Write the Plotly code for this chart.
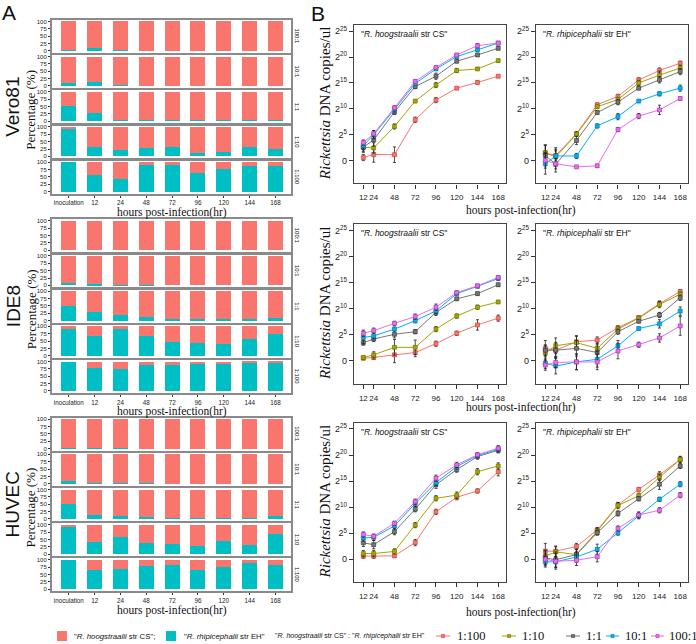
import plotly.graph_objects as go

W, H = 696, 644
SANS = "Liberation Sans, Arial, sans-serif"
SERIF = "Liberation Serif, Times New Roman, serif"

# ---------------- Panel A data (% of "R. rhipicephalii str EH") ----------------
categories = ["inoculation", "12", "24", "48", "72", "96", "120", "144", "168"]
ratios_A = ["100:1", "10:1", "1:1", "1:10", "1:100"]
cells = ["Vero81", "IDE8", "HUVEC"]

vero81_100_1 = [2, 8, 2, 0, 0, 0, 0, 0, 0]
vero81_10_1 = [10, 13, 5, 1, 1, 1, 1, 1, 1]
vero81_1_1 = [50, 28, 5, 3, 4, 4, 3, 3, 4]
vero81_1_10 = [92, 33, 20, 30, 32, 12, 16, 31, 26]
vero81_1_100 = [100, 58, 43, 94, 90, 64, 77, 86, 86]

ide8_100_1 = [1, 1, 2, 0, 0, 0, 0, 0, 0]
ide8_10_1 = [8, 4, 2, 1, 0, 0, 0, 0, 0]
ide8_1_1 = [50, 30, 19, 12, 5, 5, 4, 4, 10]
ide8_1_10 = [92, 66, 94, 68, 48, 45, 40, 58, 74]
ide8_1_100 = [100, 78, 74, 88, 87, 90, 90, 96, 96]

huvec_100_1 = [1, 2, 3, 0, 0, 0, 0, 0, 0]
huvec_10_1 = [9, 4, 3, 2, 0, 0, 0, 0, 0]
huvec_1_1 = [50, 12, 10, 5, 4, 3, 3, 4, 11]
huvec_1_10 = [92, 40, 58, 38, 35, 28, 45, 31, 70]
huvec_1_100 = [100, 67, 70, 78, 84, 67, 75, 90, 82]

groupA = [
    [vero81_100_1, vero81_10_1, vero81_1_1, vero81_1_10, vero81_1_100],
    [ide8_100_1, ide8_10_1, ide8_1_1, ide8_1_10, ide8_1_100],
    [huvec_100_1, huvec_10_1, huvec_1_1, huvec_1_10, huvec_1_100],
]

# ---------------- Panel B data (log2 copies/ul) ----------------
hours = [12, 24, 48, 72, 96, 120, 144, 168]
ratios_B = ["1:100", "1:10", "1:1", "10:1", "100:1"]
y_tickvals = [0, 5, 10, 15, 20, 25]
y_ticktext = ["0", "2<sup>5</sup>", "2<sup>10</sup>", "2<sup>15</sup>", "2<sup>20</sup>", "2<sup>25</sup>"]

# Vero81 - CS
vero_cs_1_100 = [0.6, 1.2, 1.15, 7.9, 11.7, 14.0, 15.1, 16.3]
vero_cs_1_10 = [2.6, 2.45, 6.6, 11.5, 14.6, 17.4, 17.7, 19.3]
vero_cs_1_1 = [2.6, 4.0, 9.4, 14.3, 16.3, 19.2, 20.4, 21.7]
vero_cs_10_1 = [2.9, 5.0, 9.9, 14.9, 17.7, 20.1, 21.4, 22.7]
vero_cs_100_1 = [3.5, 5.2, 10.2, 15.3, 18.0, 20.4, 22.2, 22.7]
# Vero81 - EH
vero_eh_1_100 = [1.5, 1.0, 5.2, 10.8, 12.4, 15.6, 17.4, 18.8]
vero_eh_1_10 = [1.5, 0.7, 5.1, 10.4, 11.8, 15.0, 16.5, 17.9]
vero_eh_1_1 = [1.0, -0.7, 3.9, 9.3, 11.3, 14.0, 15.6, 17.2]
vero_eh_10_1 = [-0.6, 0.9, 0.9, 6.7, 8.5, 11.5, 12.9, 14.0]
vero_eh_100_1 = [0.05, -0.6, -1.2, -1.0, 6.0, 8.6, 9.8, 12.0]
# IDE8 - CS
ide8_cs_1_100 = [0.5, 0.65, 1.15, 1.6, 3.3, 5.3, 6.9, 8.2]
ide8_cs_1_10 = [0.65, 1.15, 2.6, 2.6, 6.1, 8.6, 10.3, 11.3]
ide8_cs_1_1 = [3.5, 4.2, 5.1, 5.6, 9.3, 11.9, 12.9, 14.6]
ide8_cs_10_1 = [4.5, 4.8, 6.1, 7.7, 9.6, 12.9, 14.3, 15.8]
ide8_cs_100_1 = [5.3, 5.8, 7.2, 8.5, 10.3, 13.1, 14.4, 16.0]
# IDE8 - EH
ide8_eh_1_100 = [2.4, 2.05, 3.65, 4.0, 6.35, 8.3, 11.0, 13.3]
ide8_eh_1_10 = [1.5, 2.9, 3.5, 2.4, 6.1, 8.2, 10.8, 12.8]
ide8_eh_1_1 = [2.05, 2.05, 2.4, 1.6, 5.6, 7.6, 8.8, 12.1]
ide8_eh_10_1 = [-0.45, -1.0, -0.2, 0.3, 2.9, 6.2, 7.1, 9.55]
ide8_eh_100_1 = [-0.8, -0.3, -0.2, -0.2, 1.9, 3.1, 4.4, 6.7]
# HUVEC - CS
huvec_cs_1_100 = [0.6, 0.6, 0.65, 3.2, 9.1, 11.9, 13.1, 16.8]
huvec_cs_1_10 = [1.1, 1.1, 1.5, 6.55, 11.7, 12.3, 16.8, 17.9]
huvec_cs_1_1 = [3.15, 2.8, 5.3, 9.6, 14.3, 17.2, 19.7, 20.9]
huvec_cs_10_1 = [4.1, 4.2, 6.4, 10.7, 14.7, 17.8, 19.9, 21.1]
huvec_cs_100_1 = [4.75, 4.4, 6.9, 11.05, 15.55, 18.1, 20.05, 21.3]
# HUVEC - EH
huvec_eh_1_100 = [1.55, 1.55, 2.45, 5.6, 10.4, 13.4, 16.2, 19.15]
huvec_eh_1_10 = [0.6, 1.4, 0.9, 5.4, 10.3, 12.2, 15.7, 19.15]
huvec_eh_1_1 = [0.25, -0.1, 0.9, 5.1, 8.8, 11.6, 14.4, 17.9]
huvec_eh_10_1 = [-0.5, -0.5, 0.45, 1.9, 5.1, 8.35, 11.5, 14.4]
huvec_eh_100_1 = [0.0, -0.4, -0.2, 0.5, 5.9, 8.5, 9.4, 12.3]

# error bars (log2 units)
vero_cs_err = [[0.6, 1.5, 1.5, 0.5, 0.5, 0.2, 0.3, 0.2], [0.8, 1.0, 0.5, 0.3, 0.5, 0.4, 0.3, 0.3],
               [1.0, 1.2, 0.5, 0.4, 0.6, 0.3, 0.3, 0.3], [0.8, 0.8, 0.5, 0.4, 0.3, 0.3, 0.3, 0.3],
               [0.5, 0.6, 0.4, 0.3, 0.3, 0.3, 0.4, 0.2]]
vero_eh_err = [[1.5, 1.5, 0.4, 0.3, 0.4, 0.4, 0.5, 0.4], [1.5, 1.5, 0.4, 0.3, 0.4, 0.5, 0.8, 0.5],
               [2.0, 1.5, 0.8, 0.3, 0.5, 0.3, 0.6, 0.6], [2.0, 1.0, 0.5, 0.4, 0.6, 0.3, 0.4, 0.6],
               [1.5, 1.0, 0.2, 0.3, 0.4, 0.5, 0.9, 0.3]]
ide8_cs_err = [[0.3, 0.4, 1.5, 0.8, 0.5, 0.4, 1.0, 0.6], [0.3, 0.6, 1.5, 1.4, 0.5, 0.4, 0.4, 0.3],
               [0.5, 0.5, 0.7, 0.4, 0.6, 0.3, 0.3, 0.3], [1.2, 0.6, 0.4, 0.4, 0.5, 0.3, 0.3, 0.4],
               [0.6, 0.5, 0.4, 0.5, 0.6, 0.3, 0.3, 0.3]]
ide8_eh_err = [[1.5, 1.2, 1.2, 0.6, 0.4, 0.3, 0.5, 0.4], [1.5, 1.5, 1.2, 1.0, 0.4, 0.3, 0.6, 0.4],
               [1.0, 1.5, 1.5, 1.5, 0.5, 0.3, 0.5, 0.5], [1.0, 1.5, 1.5, 1.5, 1.0, 0.3, 0.8, 0.8],
               [1.0, 1.0, 1.5, 1.5, 1.5, 0.5, 0.8, 1.8]]
huvec_cs_err = [[0.4, 0.4, 0.3, 0.6, 0.5, 0.5, 0.4, 0.8], [0.6, 0.6, 0.5, 0.5, 0.5, 0.6, 0.6, 0.6],
                [0.7, 0.8, 0.6, 0.5, 0.7, 0.5, 0.5, 0.5], [0.6, 0.6, 0.6, 0.6, 0.6, 0.5, 0.4, 0.5],
                [0.5, 0.4, 0.4, 0.5, 0.6, 0.5, 0.4, 0.5]]
huvec_eh_err = [[1.5, 1.0, 0.6, 0.5, 0.5, 0.3, 0.6, 0.5], [1.0, 1.0, 1.0, 0.6, 0.6, 0.5, 0.6, 0.6],
                [1.5, 1.5, 1.0, 0.5, 0.5, 0.4, 1.0, 0.5], [1.0, 1.0, 1.0, 1.0, 0.5, 0.6, 0.4, 0.5],
                [1.0, 1.5, 1.0, 1.0, 0.5, 0.6, 0.5, 0.5]]

panelsB = [
    ([vero_cs_1_100, vero_cs_1_10, vero_cs_1_1, vero_cs_10_1, vero_cs_100_1], vero_cs_err, 0, 0),
    ([vero_eh_1_100, vero_eh_1_10, vero_eh_1_1, vero_eh_10_1, vero_eh_100_1], vero_eh_err, 0, 1),
    ([ide8_cs_1_100, ide8_cs_1_10, ide8_cs_1_1, ide8_cs_10_1, ide8_cs_100_1], ide8_cs_err, 1, 0),
    ([ide8_eh_1_100, ide8_eh_1_10, ide8_eh_1_1, ide8_eh_10_1, ide8_eh_100_1], ide8_eh_err, 1, 1),
    ([huvec_cs_1_100, huvec_cs_1_10, huvec_cs_1_1, huvec_cs_10_1, huvec_cs_100_1], huvec_cs_err, 2, 0),
    ([huvec_eh_1_100, huvec_eh_1_10, huvec_eh_1_1, huvec_eh_10_1, huvec_eh_100_1], huvec_eh_err, 2, 1),
]
strain_titles = ['"<i>R. hoogstraalii</i> str CS"', '"<i>R. rhipicephalii</i> str EH"']

# ---------------- styling ----------------
SALMON = "#F8766D"
TEAL = "#00BFC4"
line_colors = ["#F8766D", "#A3A500", "#777777", "#00B0F6", "#E76BF3"]
marker_edges = ["#c0392b", "#6b6b00", "#333333", "#00739e", "#a0309f"]


def fx(px):
    return px / W


def fy(py):
    return 1 - py / H


fig = go.Figure()
layout = dict(width=W, height=H, margin=dict(l=0, r=0, t=0, b=0),
              plot_bgcolor="white", paper_bgcolor="white",
              barmode="stack", bargap=0.42, showlegend=False)
annotations = []
shapes = []


def ann(x, y, text, size, family=SANS, angle=0, xanchor="center", color="#111"):
    annotations.append(dict(x=fx(x), y=fy(y), xref="paper", yref="paper", text=text,
                            showarrow=False, textangle=angle, xanchor=xanchor, yanchor="middle",
                            font=dict(size=size, family=family, color=color)))


n = 0
# ---------------- Panel A ----------------
barX = (52, 291)
group_tops = [19, 219, 418]
step, ph = 35.3, 33.0
for g, cell in enumerate(cells):
    for r, ratio in enumerate(ratios_A):
        n += 1
        top = group_tops[g] + r * step
        bot = top + ph
        xa = dict(domain=[fx(barX[0]), fx(barX[1])], type="category", range=[-0.65, 8.6],
                  showline=True, mirror=True, linecolor="#8a8a8a", linewidth=2,
                  showgrid=False, zeroline=False, anchor="y%d" % n, fixedrange=True, tickangle=0)
        if r == 4:
            xa.update(ticks="outside", ticklen=2, tickcolor="#333", tickwidth=1,
                      tickfont=dict(size=6.3, family=SANS, color="#222"), showticklabels=True)
        else:
            xa.update(ticks="", showticklabels=False)
        ya = dict(domain=[fy(bot), fy(top)], range=[-7, 105], tickvals=[0, 25, 50, 75, 100],
                  ticks="outside", ticklen=2, tickcolor="#333", tickwidth=1,
                  tickfont=dict(size=6, family=SANS, color="#222"),
                  showline=True, mirror=True, linecolor="#8a8a8a", linewidth=2,
                  showgrid=False, zeroline=False, anchor="x%d" % n, fixedrange=True)
        layout["xaxis%d" % n] = xa
        layout["yaxis%d" % n] = ya
        eh = groupA[g][r]
        cs = [100 - v for v in eh]
        fig.add_trace(go.Bar(x=categories, y=eh, marker=dict(color=TEAL, line=dict(width=0)),
                             xaxis="x%d" % n, yaxis="y%d" % n, name="EH"))
        fig.add_trace(go.Bar(x=categories, y=cs, marker=dict(color=SALMON, line=dict(width=0)),
                             xaxis="x%d" % n, yaxis="y%d" % n, name="CS"))
        ann(297, (top + bot) / 2, ratio, 6, angle=90)
    gc = group_tops[g] + (4 * step + ph) / 2
    ann(13, gc, cell, 19, family="Liberation Sans Narrow, " + SANS, angle=-90)
    ann(31, gc + 3, "Percentage (%)", 13, family=SERIF, angle=-90)
    ann(171.5, group_tops[g] + 4 * step + ph + 19, "hours post-infection(hr)", 11.5, family=SERIF)

# ---------------- Panel B ----------------
colX = [(354, 506), (536, 688)]
rowY = [(24, 183), (224, 384), (423, 583)]
for series, errs, row, col in panelsB:
    n += 1
    x0, x1 = colX[col]
    y0, y1 = rowY[row]
    layout["xaxis%d" % n] = dict(domain=[fx(x0), fx(x1)], range=[1.2, 177], tickvals=hours,
                                 ticks="outside", ticklen=4, tickcolor="#333", ticklabelstandoff=2,
                                 tickangle=0,
                                 tickfont=dict(size=8, family=SANS, color="#222"),
                                 showline=True, mirror=True, linecolor="#444", linewidth=1.2,
                                 showgrid=False, zeroline=False, anchor="y%d" % n, fixedrange=True)
    layout["yaxis%d" % n] = dict(domain=[fy(y1), fy(y0)], range=[-4.4, 26.2], tickvals=y_tickvals,
                                 ticktext=y_ticktext, ticks="outside", ticklen=4, tickcolor="#333",
                                 tickfont=dict(size=9, family=SANS, color="#222"),
                                 showline=True, mirror=True, linecolor="#444", linewidth=1.2,
                                 showgrid=False, zeroline=False, anchor="x%d" % n, fixedrange=True)
    for k in range(5):
        fig.add_trace(go.Scatter(
            x=hours, y=series[k], mode="lines+markers", name=ratios_B[k],
            line=dict(color=line_colors[k], width=1),
            marker=dict(symbol="square", size=4, color=line_colors[k],
                        line=dict(color=marker_edges[k], width=0.6)),
            error_y=dict(type="data", array=errs[k], color="#222", thickness=0.8, width=1.5),
            xaxis="x%d" % n, yaxis="y%d" % n))
    ann(x0 + 5, y0 + 9, strain_titles[col], 8.5, xanchor="left")
    if col == 0:
        ann(325, (y0 + y1) / 2, "<i>Rickettsia</i> DNA copies/ul", 15, family=SERIF, angle=-90)

for yy in [210, 408, 613]:
    ann(521, yy, "hours post-infection(hr)", 11.5, family=SERIF)

# panel letters
ann(9, 12, "A", 21)
ann(318, 13, "B", 21)

# ---------------- legend ----------------
LY = 637
shapes.append(dict(type="rect", xref="paper", yref="paper", x0=fx(57), x1=fx(67), y0=fy(642), y1=fy(632),
                   fillcolor=SALMON, line=dict(width=0)))
shapes.append(dict(type="rect", xref="paper", yref="paper", x0=fx(166), x1=fx(176), y0=fy(642), y1=fy(632),
                   fillcolor=TEAL, line=dict(width=0)))
ann(72, LY, '"<i>R. hoogstraalii</i> str CS";', 7.8, xanchor="left")
ann(182, LY, '"<i>R. rhipicephalii</i> str EH"', 7.8, xanchor="left")
ann(273, LY, '"<i>R. hoogstraalii</i> str CS" : "<i>R. rhipicephalii</i> str EH"', 7, xanchor="left")
leg_x = [(436, 450, 455), (502, 516, 520), (566, 580, 584), (606, 619, 623), (651, 664, 667)]
for k, (a, b, t) in enumerate(leg_x):
    shapes.append(dict(type="line", xref="paper", yref="paper", x0=fx(a), x1=fx(b), y0=fy(LY), y1=fy(LY),
                       line=dict(color=line_colors[k], width=1)))
    c = (a + b) / 2
    shapes.append(dict(type="rect", xref="paper", yref="paper", x0=fx(c - 1.6), x1=fx(c + 1.6),
                       y0=fy(LY + 1.6), y1=fy(LY - 1.6), fillcolor=line_colors[k],
                       line=dict(color=marker_edges[k], width=0.5)))
    ann(t, LY, ratios_B[k], 12.5, family=SERIF, xanchor="left")

layout["annotations"] = annotations
layout["shapes"] = shapes
fig.update_layout(**layout)
fig.write_html("out.html", config={"displayModeBar": False},
               post_script="document.body.style.margin='0';document.body.style.overflow='hidden';")
